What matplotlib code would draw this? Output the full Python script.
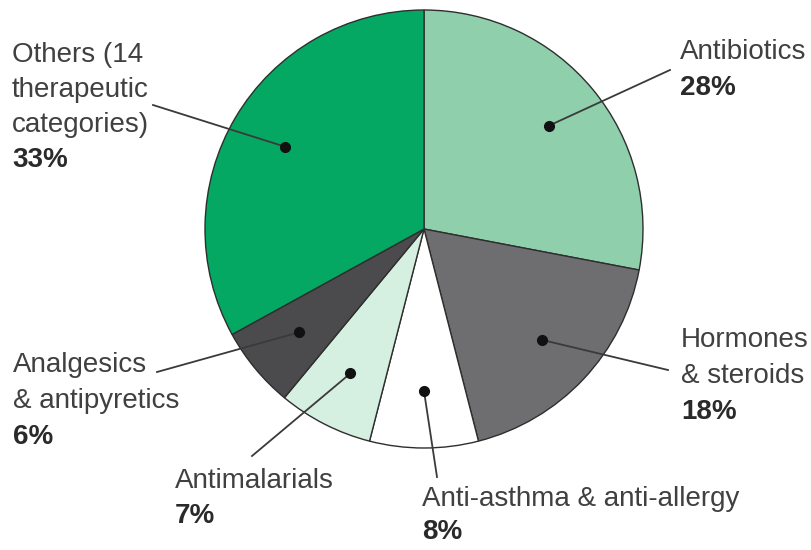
import numpy as np
import matplotlib.pyplot as plt

W, H = 811, 550

# share of each therapeutic group, clockwise from 12 o'clock
categories = ['Antibiotics', 'Hormones\n& steroids', 'Anti-asthma & anti-allergy',
              'Antimalarials', 'Analgesics\n& antipyretics',
              'Others (14\ntherapeutic\ncategories)']
shares = [28, 18, 8, 7, 6, 33]
pct_labels = ['28%', '18%', '8%', '7%', '6%', '33%']
colors = ['#8fcfab', '#6e6e70', '#ffffff', '#d5efe0', '#4b4b4d', '#05a862']

# label placement in pixels (left x, baseline of first line, line step) and leader line ends
label_xy = [(680, 59, 36), (681, 347, 36), (422, 506, 33), (175, 488, 35), (13, 372, 36), (12, 62, 35)]
leader_end = [(670, 70), (668, 370), (437, 477), (252, 456), (157, 372), (153, 105)]

cx, cy, R = 424, 229, 219

plt.rcParams['font.family'] = ['Liberation Sans', 'DejaVu Sans']

fig = plt.figure(figsize=(W / 100, H / 100), dpi=100)
ax = fig.add_axes([0, 0, 1, 1])

def py(y):
    return H - y

wedges, _ = ax.pie(shares, colors=colors, startangle=90, counterclock=False,
                   center=(cx, py(cy)), radius=R, frame=True,
                   wedgeprops=dict(edgecolor='#2e2e2e', linewidth=1.0))
ax.set_xlim(0, W)
ax.set_ylim(0, H)
ax.set_aspect('equal')
ax.axis('off')

for w, name, pct, (tx, ty, step), (ex, ey) in zip(wedges, categories, pct_labels, label_xy, leader_end):
    mid = np.deg2rad((w.theta1 + w.theta2) / 2)
    dx = cx + 0.74 * R * np.cos(mid)
    dy = py(cy) + 0.74 * R * np.sin(mid)
    ax.plot([dx, ex], [dy, py(ey)], color='#3a3a3a', lw=1.3, zorder=3)
    ax.plot(dx, dy, 'o', color='#111111', ms=7, zorder=4)
    lines = name.split('\n')
    for i, ln in enumerate(lines):
        ax.text(tx, py(ty + i * step), ln, fontsize=20, color='#404040',
                ha='left', va='baseline')
    ax.text(tx, py(ty + len(lines) * step), pct, fontsize=20, color='#2a2a2a',
            fontweight='bold', ha='left', va='baseline')

fig.savefig('out.png', dpi=100, facecolor='white')
